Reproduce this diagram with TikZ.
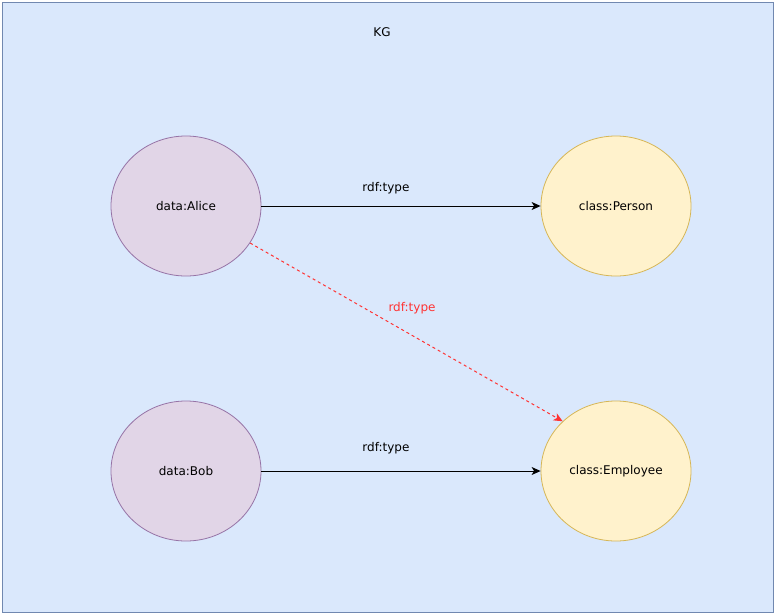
\documentclass[tikz,border=0pt]{standalone}
\usepackage{fontspec}
\setmainfont{DejaVu Sans}
\usetikzlibrary{shapes.geometric,arrows.meta}
\definecolor{bgfill}{HTML}{DAE8FC}
\definecolor{bgline}{HTML}{7188B0}
\definecolor{purfill}{HTML}{E1D5E7}
\definecolor{purline}{HTML}{9673A6}
\definecolor{yelfill}{HTML}{FFF2CC}
\definecolor{yelline}{HTML}{D6B656}
\definecolor{redline}{HTML}{FF3333}
\tikzset{
  ent/.style={ellipse, minimum width=150pt, minimum height=140pt, inner sep=0pt, line width=0.8pt, draw=purline, fill=purfill, font=\fontsize{12}{14}\selectfont},
  cls/.style={ent, draw=yelline, fill=yelfill},
  lbl/.style={font=\fontsize{12}{14}\selectfont, inner sep=0pt},
  conn/.style={line width=1pt, -{Stealth[length=9pt,width=8pt,inset=2.5pt]}},
  inferred/.style={conn, draw=redline, dash pattern=on 3pt off 3pt, -{Stealth[length=9pt,width=8pt,inset=2.5pt,fill=redline]}}
}
\begin{document}
\begin{tikzpicture}[x=1pt,y=-1pt]
\useasboundingbox (0,0) rectangle (774,614);
\node[draw=bgline, fill=bgfill, line width=1pt, minimum width=771pt, minimum height=610pt, anchor=north west, inner sep=0pt] (frame) at (1.5,1.5) {};
\node[lbl] (kg) at (382,32) {KG};
\node[ent] (alice) at (186,206) {data:Alice};
\node[ent] (bob) at (186,471) {data:Bob};
\node[cls] (person) at (616,206) {class:Person};
\node[cls] (employee) at (616,471) {class:Employee};
\draw[conn] (alice) -- (person) node[lbl, pos=0.446, above=12pt] (l1) {rdf:type};
\draw[conn] (bob) -- (employee) node[lbl, pos=0.446, above=17pt] (l2) {rdf:type};
\draw[inferred] (alice.-30) -- (employee.137);
\node[lbl, text=redline] (l3) at (412,308) {rdf:type};
\end{tikzpicture}
\end{document}
